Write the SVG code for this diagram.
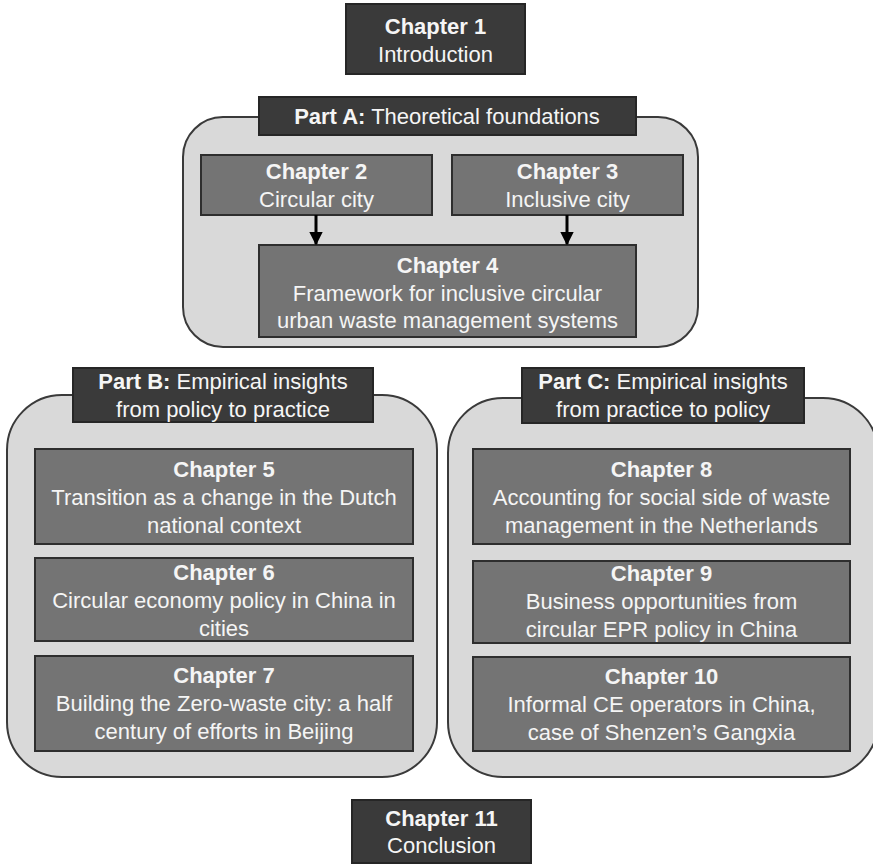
<svg xmlns="http://www.w3.org/2000/svg" width="873" height="865" viewBox="0 0 873 865">
<defs>
<style>
.dark{fill:#3a3a3a;stroke:#262626;stroke-width:2}
.mid{fill:#747474;stroke:#2e2e2e;stroke-width:2}
.cont{fill:#d9d9d9;stroke:#3a3a3a;stroke-width:2}
text{font-family:"Liberation Sans",Arial,sans-serif;font-size:22px;fill:#f5f5f5;text-anchor:middle}
.b{font-weight:bold}
.conn{stroke:#000;stroke-width:3;fill:none}
</style>
<marker id="ah" viewBox="0 0 10 10" refX="9" refY="5" markerWidth="4.5" markerHeight="4.5" orient="auto" markerUnits="strokeWidth">
<path d="M0,0 L10,5 L0,10 z" fill="#000"/>
</marker>
</defs>
<rect width="873" height="865" fill="#fff"/>

<g id="partA">
<rect class="cont" x="183" y="117" width="515" height="230" rx="40"/>
<rect class="dark" x="259" y="97" width="377" height="38"/>
<text x="447" y="124"><tspan class="b">Part A:</tspan> Theoretical foundations</text>
</g>

<g id="partB">
<rect class="cont" x="7" y="395" width="430" height="382" rx="55"/>
<rect class="dark" x="73" y="368" width="300" height="54"/>
<text x="223" y="389"><tspan class="b">Part B:</tspan> Empirical insights</text>
<text x="223" y="417">from policy to practice</text>
</g>

<g id="partC">
<rect class="cont" x="448" y="398" width="430" height="379" rx="55"/>
<rect class="dark" x="522" y="368" width="282" height="55"/>
<text x="663" y="389"><tspan class="b">Part C:</tspan> Empirical insights</text>
<text x="663" y="417">from practice to policy</text>
</g>

<g id="ch1">
<rect class="dark" x="346" y="4" width="179" height="70"/>
<text class="b" x="435.5" y="34">Chapter 1</text>
<text x="435.5" y="62">Introduction</text>
</g>

<g id="ch2">
<rect class="mid" x="201" y="155" width="231" height="60"/>
<text class="b" x="316.5" y="179">Chapter 2</text>
<text x="316.5" y="207">Circular city</text>
</g>

<g id="ch3">
<rect class="mid" x="452" y="155" width="231" height="60"/>
<text class="b" x="567.5" y="179">Chapter 3</text>
<text x="567.5" y="207">Inclusive city</text>
</g>

<g id="ch4">
<rect class="mid" x="259" y="245" width="377" height="92"/>
<text class="b" x="447.5" y="273">Chapter 4</text>
<text x="447.5" y="301">Framework for inclusive circular</text>
<text x="447.5" y="328">urban waste management systems</text>
</g>

<g id="ch5">
<rect class="mid" x="35" y="449" width="378" height="95"/>
<text class="b" x="224" y="477">Chapter 5</text>
<text x="224" y="505">Transition as a change in the Dutch</text>
<text x="224" y="533">national context</text>
</g>

<g id="ch6">
<rect class="mid" x="35" y="558" width="378" height="83"/>
<text class="b" x="224" y="580">Chapter 6</text>
<text x="224" y="608">Circular economy policy in China in</text>
<text x="224" y="636">cities</text>
</g>

<g id="ch7">
<rect class="mid" x="35" y="656" width="378" height="95"/>
<text class="b" x="224" y="683">Chapter 7</text>
<text x="224" y="711">Building the Zero-waste city: a half</text>
<text x="224" y="739">century of efforts in Beijing</text>
</g>

<g id="ch8">
<rect class="mid" x="473" y="449" width="377" height="95"/>
<text class="b" x="661.5" y="477">Chapter 8</text>
<text x="661.5" y="505">Accounting for social side of waste</text>
<text x="661.5" y="533">management in the Netherlands</text>
</g>

<g id="ch9">
<rect class="mid" x="473" y="561" width="377" height="82"/>
<text class="b" x="661.5" y="581">Chapter 9</text>
<text x="661.5" y="609">Business opportunities from</text>
<text x="661.5" y="637">circular EPR policy in China</text>
</g>

<g id="ch10">
<rect class="mid" x="473" y="657" width="377" height="94"/>
<text class="b" x="661.5" y="684">Chapter 10</text>
<text x="661.5" y="712">Informal CE operators in China,</text>
<text x="661.5" y="740">case of Shenzen’s Gangxia</text>
</g>

<g id="ch11">
<rect class="dark" x="352" y="800" width="179" height="63"/>
<text class="b" x="441.5" y="826">Chapter 11</text>
<text x="441.5" y="853">Conclusion</text>
</g>

<g id="connectors">
<line class="conn" x1="316" y1="215" x2="316" y2="244" marker-end="url(#ah)"/>
<line class="conn" x1="567" y1="215" x2="567" y2="244" marker-end="url(#ah)"/>
</g>
</svg>
